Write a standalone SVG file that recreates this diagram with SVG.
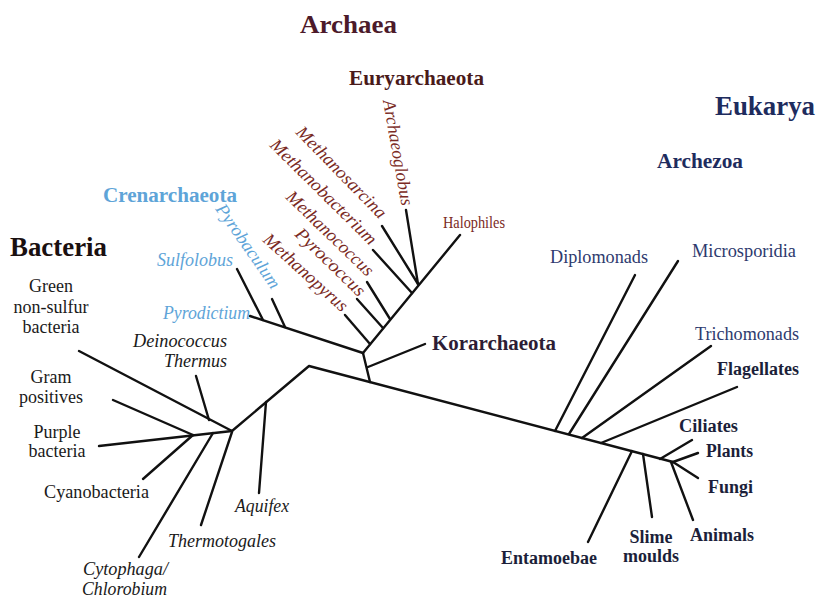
<svg xmlns="http://www.w3.org/2000/svg" width="818" height="600" viewBox="0 0 818 600">
  <style>
    .edge { fill: none; stroke: #111; stroke-width: 2.4; stroke-linecap: round; stroke-linejoin: round; }
    text { font-family: "Liberation Serif", "Times New Roman", serif; }
    .domain { font-weight: bold; }
    .bac { font-size: 18px; fill: #1a1a1a; }
    .bac-i { font-size: 18px; fill: #1a1a1a; font-style: italic; }
    .eury { font-size: 18px; fill: #7a2a24; font-style: italic; }
    .cren { font-size: 18px; fill: #5ea4d8; font-style: italic; }
    .euk { font-size: 18px; fill: #2e3a6e; }
    .euk-b { font-size: 18px; fill: #1c1f3a; font-weight: bold; }
  </style>

  <rect width="818" height="600" fill="#fff"/>

  <!-- tree branches -->
  <g id="connectors" class="edge">
    <!-- central trunk -->
    <path d="M232,431 L309,366 L673,462"/>
    <path d="M266,402 L259,493"/>
    <!-- archaea root -->
    <path d="M370,382 L363,353"/>
    <path d="M368,367 L425,344"/>
    <!-- Crenarchaeota -->
    <path d="M363,353 L250,316"/>
    <path d="M263,320 L237,269"/>
    <path d="M285,327 L272,299"/>
    <!-- Euryarchaeota -->
    <path d="M363,353 L460,235"/>
    <path d="M370,344 L345,315"/>
    <path d="M383,328 L357,299"/>
    <path d="M390,319 L367,282"/>
    <path d="M412,293 L373,250"/>
    <path d="M418,284 L382,226"/>
    <path d="M418,284 L406,210"/>
    <!-- Bacteria -->
    <path d="M232,431 L79,351"/>
    <path d="M209,420 L196,376"/>
    <path d="M232,431 L99,446"/>
    <path d="M193,435 L113,400"/>
    <path d="M193,435 L143,479"/>
    <path d="M213,433 L139,557"/>
    <path d="M232,432 L201,525"/>
    <!-- Eukarya -->
    <path d="M555,431 L635,275"/>
    <path d="M569,434 L678,261"/>
    <path d="M582,438 L711,346"/>
    <path d="M601,443 L737,387"/>
    <path d="M632,451 L588,542"/>
    <path d="M643,454 L652,517"/>
    <path d="M660,459 L692,440"/>
    <path d="M673,462 L698,453"/>
    <path d="M673,462 L698,478"/>
    <path d="M671,462 L693,520"/>
  </g>

  <!-- domain and phylum headings -->
  <g id="archaea"><text class="domain" x="300" y="33" font-size="26" fill="#4c1a2a" textLength="97" lengthAdjust="spacingAndGlyphs">Archaea</text></g>
  <g id="euryarchaeota"><text class="domain" x="349" y="85" font-size="20" fill="#4a1a1a" textLength="135" lengthAdjust="spacingAndGlyphs">Euryarchaeota</text></g>
  <g id="crenarchaeota"><text class="domain" x="103" y="202" font-size="20" fill="#5ea4d8" textLength="134" lengthAdjust="spacingAndGlyphs">Crenarchaeota</text></g>
  <g id="korarchaeota"><text class="domain" x="432" y="350" font-size="20" fill="#2d1d35" textLength="124" lengthAdjust="spacingAndGlyphs">Korarchaeota</text></g>
  <g id="bacteria"><text class="domain" x="10" y="256" font-size="27" fill="#1a1010" textLength="97" lengthAdjust="spacingAndGlyphs">Bacteria</text></g>
  <g id="eukarya"><text class="domain" x="715" y="115" font-size="27" fill="#1e2c5e" textLength="100" lengthAdjust="spacingAndGlyphs">Eukarya</text></g>
  <g id="archezoa"><text class="domain" x="657" y="168" font-size="20" fill="#1e2c5e" textLength="86" lengthAdjust="spacingAndGlyphs">Archezoa</text></g>

  <!-- Euryarchaeota leaves -->
  <g id="archaeoglobus"><text class="eury" transform="translate(383 101) rotate(80)" textLength="107" lengthAdjust="spacingAndGlyphs">Archaeoglobus</text></g>
  <g id="methanosarcina"><text class="eury" transform="translate(295 133) rotate(45.7)" textLength="121" lengthAdjust="spacingAndGlyphs">Methanosarcina</text></g>
  <g id="methanobacterium"><text class="eury" transform="translate(269 146) rotate(44.7)" textLength="142" lengthAdjust="spacingAndGlyphs">Methanobacterium</text></g>
  <g id="methanococcus"><text class="eury" transform="translate(285 198) rotate(44)" textLength="114" lengthAdjust="spacingAndGlyphs">Methanococcus</text></g>
  <g id="pyrococcus"><text class="eury" transform="translate(294 235) rotate(44)" textLength="90" lengthAdjust="spacingAndGlyphs">Pyrococcus</text></g>
  <g id="methanopyrus"><text class="eury" transform="translate(262 241) rotate(42)" textLength="107" lengthAdjust="spacingAndGlyphs">Methanopyrus</text></g>
  <g id="halophiles"><text x="443" y="228" font-size="16" fill="#7a2a24" textLength="62" lengthAdjust="spacingAndGlyphs">Halophiles</text></g>

  <!-- Crenarchaeota leaves -->
  <g id="pyrobaculum"><text class="cren" transform="translate(215 209) rotate(55)" textLength="99" lengthAdjust="spacingAndGlyphs">Pyrobaculum</text></g>
  <g id="sulfolobus"><text class="cren" x="157" y="266" textLength="76" lengthAdjust="spacingAndGlyphs">Sulfolobus</text></g>
  <g id="pyrodictium"><text class="cren" x="163" y="319" textLength="87" lengthAdjust="spacingAndGlyphs">Pyrodictium</text></g>

  <!-- Bacteria leaves -->
  <g id="green-non-sulfur">
    <text class="bac" x="51" y="292" text-anchor="middle">Green</text>
    <text class="bac" x="51" y="313" text-anchor="middle">non-sulfur</text>
    <text class="bac" x="51" y="333" text-anchor="middle">bacteria</text>
  </g>
  <g id="deinococcus">
    <text class="bac-i" x="133" y="347" textLength="94" lengthAdjust="spacingAndGlyphs">Deinococcus</text>
    <text class="bac-i" x="164" y="367" textLength="63" lengthAdjust="spacingAndGlyphs">Thermus</text>
  </g>
  <g id="gram-positives">
    <text class="bac" x="51" y="383" text-anchor="middle">Gram</text>
    <text class="bac" x="51" y="403" text-anchor="middle">positives</text>
  </g>
  <g id="purple-bacteria">
    <text class="bac" x="57" y="438" text-anchor="middle">Purple</text>
    <text class="bac" x="57" y="457" text-anchor="middle">bacteria</text>
  </g>
  <g id="cyanobacteria"><text class="bac" x="44" y="498" textLength="105" lengthAdjust="spacingAndGlyphs">Cyanobacteria</text></g>
  <g id="aquifex"><text class="bac-i" x="235" y="512" textLength="54" lengthAdjust="spacingAndGlyphs">Aquifex</text></g>
  <g id="thermotogales"><text class="bac-i" x="168" y="547" textLength="108" lengthAdjust="spacingAndGlyphs">Thermotogales</text></g>
  <g id="cytophaga">
    <text class="bac-i" x="83" y="575" textLength="85" lengthAdjust="spacingAndGlyphs">Cytophaga/</text>
    <text class="bac-i" x="82" y="595" textLength="85" lengthAdjust="spacingAndGlyphs">Chlorobium</text>
  </g>

  <!-- Eukarya leaves -->
  <g id="diplomonads"><text class="euk" x="550" y="263" textLength="98" lengthAdjust="spacingAndGlyphs">Diplomonads</text></g>
  <g id="microsporidia"><text class="euk" x="692" y="257" textLength="104" lengthAdjust="spacingAndGlyphs">Microsporidia</text></g>
  <g id="trichomonads"><text class="euk" x="695" y="340" textLength="104" lengthAdjust="spacingAndGlyphs">Trichomonads</text></g>
  <g id="flagellates"><text class="euk-b" x="717" y="375" textLength="82" lengthAdjust="spacingAndGlyphs">Flagellates</text></g>
  <g id="ciliates"><text class="euk-b" x="679" y="432" textLength="59" lengthAdjust="spacingAndGlyphs">Ciliates</text></g>
  <g id="plants"><text class="euk-b" x="706" y="457" textLength="47" lengthAdjust="spacingAndGlyphs">Plants</text></g>
  <g id="fungi"><text class="euk-b" x="708" y="493" textLength="45" lengthAdjust="spacingAndGlyphs">Fungi</text></g>
  <g id="animals"><text class="euk-b" x="690" y="541" textLength="64" lengthAdjust="spacingAndGlyphs">Animals</text></g>
  <g id="slime-moulds">
    <text class="euk-b" x="651" y="543" text-anchor="middle">Slime</text>
    <text class="euk-b" x="651" y="562" text-anchor="middle">moulds</text>
  </g>
  <g id="entamoebae"><text class="euk-b" x="501" y="564" textLength="96" lengthAdjust="spacingAndGlyphs">Entamoebae</text></g>
</svg>
